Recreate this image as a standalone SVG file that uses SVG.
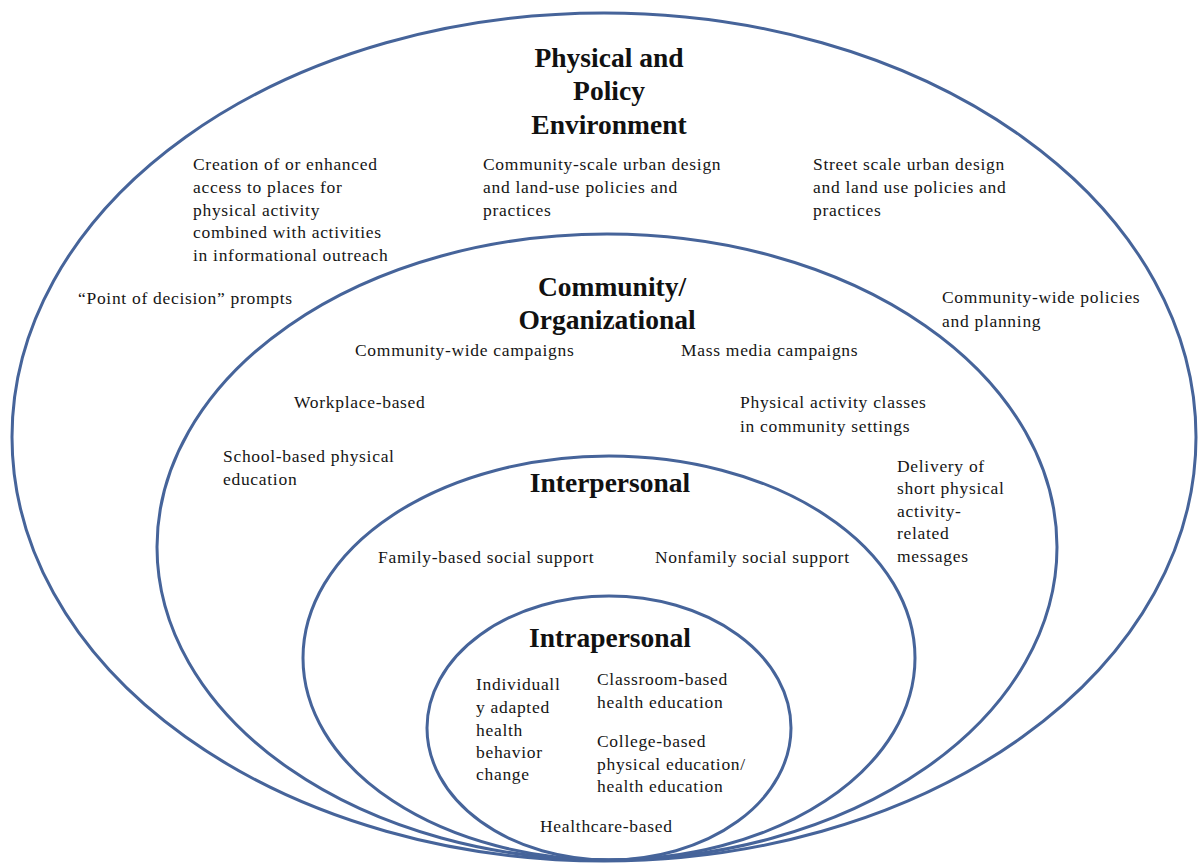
<svg xmlns="http://www.w3.org/2000/svg" width="1200" height="865" viewBox="0 0 1200 865">
  <style>
    .ring { fill: none; stroke: #46649a; stroke-width: 3; }
    .title { font-family: "Liberation Serif", "Times New Roman", serif; font-weight: bold; font-size: 27.5px; fill: #111; text-anchor: middle; }
    .item { font-family: "Liberation Serif", "Times New Roman", serif; font-size: 17.5px; letter-spacing: 0.7px; fill: #151515; }
  </style>
  <rect width="1200" height="865" fill="#ffffff"/>

  <!-- Outer level: physical and policy environment -->
  <g id="physical-policy-environment">
    <ellipse class="ring" cx="604" cy="437" rx="592" ry="424"/>
    <text class="title" x="609" y="67">Physical and</text>
    <text class="title" x="609" y="100">Policy</text>
    <text class="title" x="609" y="134">Environment</text>
    <text class="item" x="193" y="170">
      <tspan x="193" y="170">Creation of or enhanced</tspan>
      <tspan x="193" y="193">access to places for</tspan>
      <tspan x="193" y="216">physical activity</tspan>
      <tspan x="193" y="238">combined with activities</tspan>
      <tspan x="193" y="261">in informational outreach</tspan>
    </text>
    <text class="item" x="483" y="170">
      <tspan x="483" y="170">Community-scale urban design</tspan>
      <tspan x="483" y="193">and land-use policies and</tspan>
      <tspan x="483" y="216">practices</tspan>
    </text>
    <text class="item" x="813" y="170">
      <tspan x="813" y="170">Street scale urban design</tspan>
      <tspan x="813" y="193">and land use policies and</tspan>
      <tspan x="813" y="216">practices</tspan>
    </text>
    <text class="item" x="78" y="304">“Point of decision” prompts</text>
    <text class="item" x="942" y="303">
      <tspan x="942" y="303">Community-wide policies</tspan>
      <tspan x="942" y="327">and planning</tspan>
    </text>
  </g>

  <!-- Second level: community / organizational -->
  <g id="community-organizational">
    <ellipse class="ring" cx="607" cy="547" rx="450" ry="313"/>
    <text class="title" x="612" y="296">Community/</text>
    <text class="title" x="607" y="329">Organizational</text>
    <text class="item" x="355" y="356">Community-wide campaigns</text>
    <text class="item" x="681" y="356">Mass media campaigns</text>
    <text class="item" x="294" y="408">Workplace-based</text>
    <text class="item" x="740" y="408">
      <tspan x="740" y="408">Physical activity classes</tspan>
      <tspan x="740" y="432">in community settings</tspan>
    </text>
    <text class="item" x="223" y="462">
      <tspan x="223" y="462">School-based physical</tspan>
      <tspan x="223" y="485">education</tspan>
    </text>
    <text class="item" x="897" y="472">
      <tspan x="897" y="472">Delivery of</tspan>
      <tspan x="897" y="494">short physical</tspan>
      <tspan x="897" y="517">activity-</tspan>
      <tspan x="897" y="539">related</tspan>
      <tspan x="897" y="562">messages</tspan>
    </text>
  </g>

  <!-- Third level: interpersonal -->
  <g id="interpersonal">
    <ellipse class="ring" cx="609" cy="658" rx="306" ry="202"/>
    <text class="title" x="610" y="492">Interpersonal</text>
    <text class="item" x="378" y="563">Family-based social support</text>
    <text class="item" x="655" y="563">Nonfamily social support</text>
  </g>

  <!-- Innermost level: intrapersonal -->
  <g id="intrapersonal">
    <ellipse class="ring" cx="609" cy="728" rx="182" ry="132"/>
    <text class="title" x="610" y="647">Intrapersonal</text>
    <text class="item" x="476" y="690">
      <tspan x="476" y="690">Individuall</tspan>
      <tspan x="476" y="713">y adapted</tspan>
      <tspan x="476" y="736">health</tspan>
      <tspan x="476" y="758">behavior</tspan>
      <tspan x="476" y="780">change</tspan>
    </text>
    <text class="item" x="597" y="685">
      <tspan x="597" y="685">Classroom-based</tspan>
      <tspan x="597" y="708">health education</tspan>
    </text>
    <text class="item" x="597" y="747">
      <tspan x="597" y="747">College-based</tspan>
      <tspan x="597" y="770">physical education/</tspan>
      <tspan x="597" y="792">health education</tspan>
    </text>
    <text class="item" x="540" y="832">Healthcare-based</text>
  </g>

  <!-- no connectors in this diagram -->
  <g id="connectors"/>
</svg>
